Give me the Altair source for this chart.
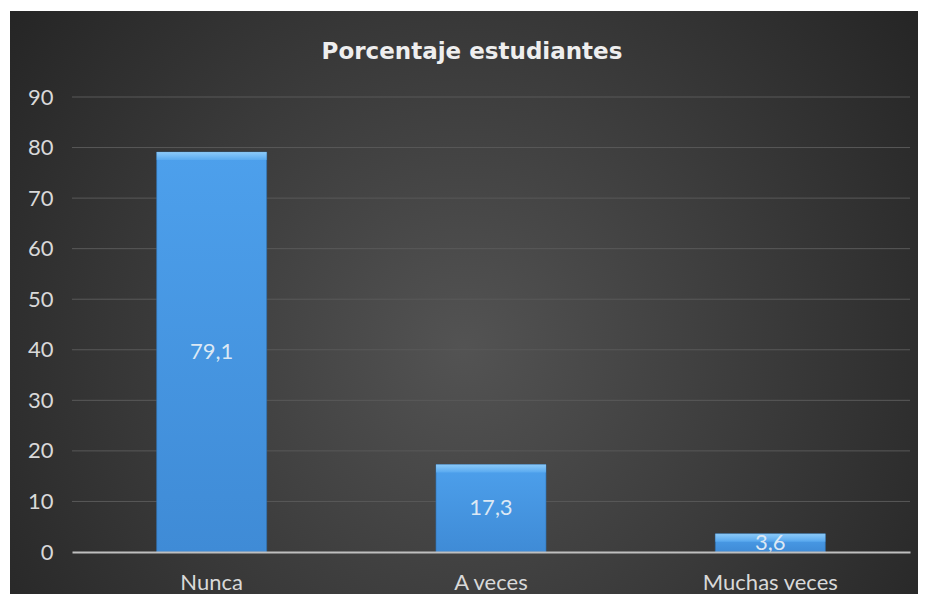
import altair as alt
import pandas as pd

categories = ["Nunca", "A veces", "Muchas veces"]
values = [79.1, 17.3, 3.6]
labels = ["79,1", "17,3", "3,6"]
grid_ticks = [10, 20, 30, 40, 50, 60, 70, 80, 90]
y_ticks = [0, 10, 20, 30, 40, 50, 60, 70, 80, 90]
title_text = "Porcentaje estudiantes"

df = pd.DataFrame({"cat": categories, "value": values, "label": labels})
grid_df = pd.DataFrame({"g": grid_ticks})

W, H = 838, 455
FONT = "Lato"
TXT = "#d9d9d9"

xscale = alt.Scale(domain=categories, paddingInner=0.606, paddingOuter=0.303)
yscale = alt.Scale(domain=[0, 90], nice=False)

xaxis = alt.Axis(title=None, labelFont=FONT, labelFontSize=22, labelColor=TXT,
                 labelAngle=0, ticks=False, tickSize=0, labelPadding=20,
                 domainColor="#bfbfbf", domainWidth=2, grid=False, zindex=1)
yaxis = alt.Axis(title=None, values=y_ticks, labelFont=FONT, labelFontSize=22,
                 labelColor=TXT, ticks=False, tickSize=0, labelPadding=19,
                 domain=False, grid=False, zindex=1)

bg = alt.Chart(alt.Data(values=[{}])).mark_rect(
    fill=alt.RadialGradient(
        gradient="radial", x1=0.5, y1=0.55, r1=0, x2=0.5, y2=0.55, r2=0.72,
        stops=[alt.GradientStop(offset=0, color="#535353"),
               alt.GradientStop(offset=1, color="#1e1e1e")]
    )
).encode(
    x=alt.value(-62), x2=alt.value(846), y=alt.value(-86), y2=alt.value(497)
)

grid = alt.Chart(grid_df).mark_rule(color="#595959", strokeWidth=1).encode(
    y=alt.Y("g:Q", scale=yscale, axis=yaxis)
)

bars = alt.Chart(df).mark_bar(
    fill=alt.LinearGradient(
        gradient="linear", x1=0, y1=0, x2=0, y2=1,
        stops=[alt.GradientStop(offset=0, color="#4da0ec"),
               alt.GradientStop(offset=1, color="#3f8bd6")]
    ),
    stroke="#2f6fae", strokeWidth=1, strokeOpacity=0.6
).encode(
    x=alt.X("cat:N", scale=xscale, sort=categories, axis=xaxis),
    y=alt.Y("value:Q", scale=yscale, axis=yaxis)
)

bevel = alt.Chart(df).mark_tick(
    orient="horizontal", thickness=8, size=110, yOffset=4,
    color=alt.LinearGradient(
        gradient="linear", x1=0, y1=0, x2=0, y2=1,
        stops=[alt.GradientStop(offset=0, color="#a6dcff"),
               alt.GradientStop(offset=1, color="#5eaef2")]
    )
).encode(
    x=alt.X("cat:N", scale=xscale, sort=categories, axis=xaxis),
    y=alt.Y("value:Q", scale=yscale, axis=yaxis)
)

text = alt.Chart(df).transform_calculate(mid="datum.value / 2").mark_text(
    font=FONT, fontSize=22, color="#dce8f4", baseline="middle", align="center"
).encode(
    x=alt.X("cat:N", scale=xscale, sort=categories, axis=xaxis),
    y=alt.Y("mid:Q", scale=yscale, axis=yaxis),
    text="label:N"
)

chart = alt.layer(bg, grid, bars, bevel, text).properties(
    width=W, height=H,
    title=alt.Title(title_text, font="DejaVu Sans", fontSize=23, fontWeight="bold",
                    color="#eeeeee", anchor="middle", dx=-19, offset=-71,
                    baseline="alphabetic", frame="group"),
    background="white",
    padding={"left": 64, "top": 89, "right": 8, "bottom": 42},
    autosize=alt.AutoSizeParams(type="none")
).configure_view(stroke=None)

chart.save("out.html", embed_options={"renderer": "svg", "actions": False})
